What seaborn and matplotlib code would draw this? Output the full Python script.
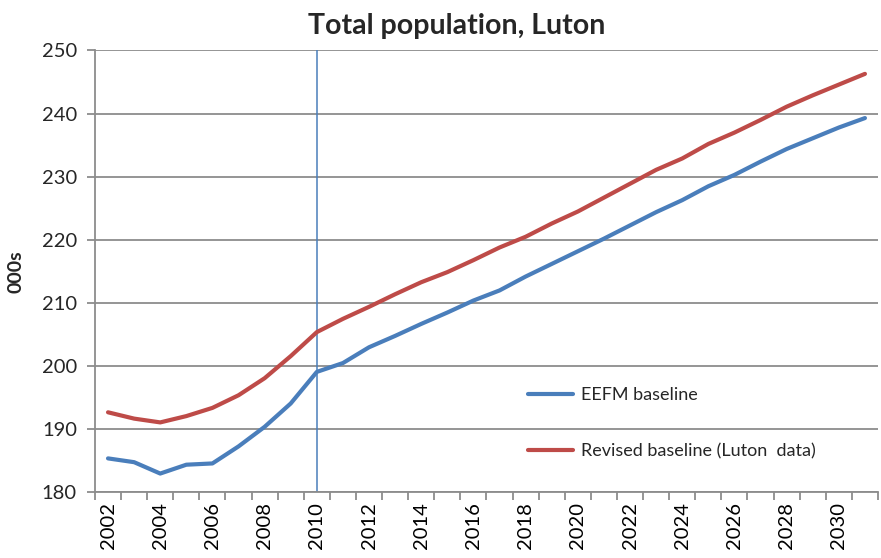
import matplotlib
matplotlib.use("Agg")
import matplotlib.pyplot as plt
from matplotlib.ticker import FixedLocator
import pandas as pd
import seaborn as sns

years = list(range(2002, 2032))
eefm_baseline = [185.4, 184.8, 183.0, 184.4, 184.6, 187.3, 190.4, 194.1, 199.1, 200.5,
                 203.0, 204.8, 206.7, 208.5, 210.4, 212.0, 214.2, 216.2, 218.2, 220.2,
                 222.3, 224.4, 226.3, 228.5, 230.3, 232.4, 234.4, 236.1, 237.8, 239.3]
revised_baseline = [192.7, 191.7, 191.1, 192.1, 193.4, 195.4, 198.1, 201.6, 205.4, 207.5,
                    209.4, 211.4, 213.3, 214.9, 216.8, 218.8, 220.5, 222.6, 224.5, 226.7,
                    228.9, 231.1, 232.9, 235.2, 237.0, 239.0, 241.1, 242.9, 244.6, 246.3]
series_names = ["EEFM baseline", "Revised baseline (Luton  data)"]
series_colors = ["#4A7EBB", "#BE4B48"]
marker_year = 2010
y_ticks = [180, 190, 200, 210, 220, 230, 240, 250]

df = pd.DataFrame({
    "year": years * 2,
    "value": eefm_baseline + revised_baseline,
    "series": [series_names[0]] * len(years) + [series_names[1]] * len(years),
})

sns.set_theme(style="white")
plt.rcParams["font.family"] = ["Lato", "DejaVu Sans"]

fig = plt.figure(figsize=(8.81, 5.58), dpi=100)
ax = fig.add_axes([0.1078, 0.1174, 0.8888, 0.7921])

grid_color = "#8C8C8C"
for v in y_ticks:
    ax.axhline(v, color=grid_color, lw=1.3, zorder=0)

ax.axvline(marker_year, color="#4A7EBB", lw=1.1, zorder=1)

sns.lineplot(data=df, x="year", y="value", hue="series", palette=series_colors,
             linewidth=3.0, ax=ax, legend=True, zorder=3,
             solid_capstyle="round")

ax.set_xlim(years[0] - 0.5, years[-1] + 0.5)
ax.set_ylim(180, 250)
ax.set_yticks(y_ticks)
ax.set_xticks(years[::2])
ax.set_xticklabels([str(y) for y in years[::2]], rotation=90)
ax.xaxis.set_minor_locator(FixedLocator([y - 0.5 for y in years] + [years[-1] + 0.5]))
ax.tick_params(axis="x", which="major", length=0, pad=7, labelsize=14.5, colors="black")
ax.tick_params(axis="x", which="minor", length=6, width=1.3, color=grid_color, bottom=True)
ax.tick_params(axis="y", which="major", length=6, width=1.3, color=grid_color,
               left=True, labelsize=14.5, pad=7)

for side in ["top", "right"]:
    ax.spines[side].set_visible(False)
for side in ["left", "bottom"]:
    ax.spines[side].set_color(grid_color)
    ax.spines[side].set_linewidth(1.3)

ax.set_xlabel("")
ax.set_ylabel("000s", fontsize=14, fontweight="bold")
ax.yaxis.set_label_coords(-0.09, 0.5)
ax.set_title("Total population, Luton", fontsize=20.5, fontweight="bold", pad=12, x=0.4625)

leg = ax.legend(loc="upper left", bbox_to_anchor=(0.532, 0.275), frameon=False,
                fontsize=13, labelspacing=2.2, handlelength=2.5, handletextpad=0.45)
for line in leg.get_lines():
    line.set_linewidth(3.0)

fig.savefig("out.png", dpi=100)
